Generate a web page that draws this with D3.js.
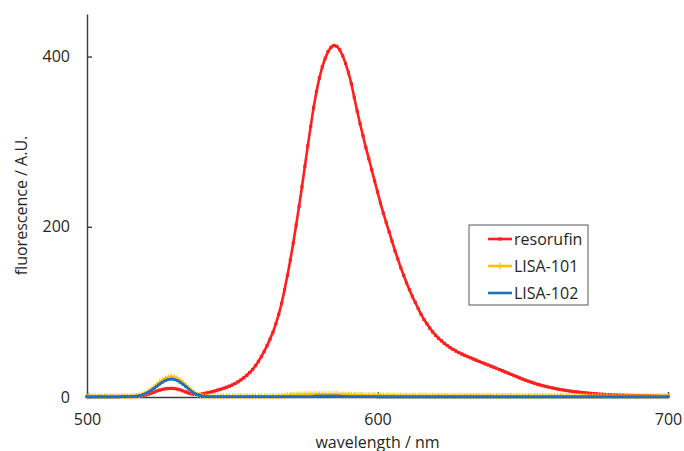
<!DOCTYPE html>
<html>
<head>
<meta charset="utf-8">
<script src="https://cdn.jsdelivr.net/npm/d3@7"></script>
<style>
  html, body { margin: 0; padding: 0; background: #fff; }
  svg { display: block; }
  text { font-family: "Open Sans", "Noto Sans", sans-serif; fill: #262626; }
</style>
</head>
<body>
<svg id="chart" width="684" height="451"></svg>
<script>
// Emission spectra, one reading per nm from 500 to 700 nm
const wavelength = d3.range(500, 701);

const resorufin = [
  0.6,0.6,0.6,0.6,0.6,0.6,0.6,0.6,0.6,0.6,0.6,0.6,0.6,0.6,0.6,0.6,
  0.7,0.9,1.2,1.6,2.2,3.2,4.4,5.7,7.0,8.1,9.0,9.6,10.0,10.1,9.9,9.3,8.4,7.2,5.9,4.6,3.7,3.1,2.9,3.2,3.8,
  4.6,5.4,6.2,7.1,8.1,9.1,10.2,11.4,12.7,14.2,15.9,17.9,20.2,22.7,25.5,28.7,32.4,36.8,41.8,47.5,
  53.7,60.5,68,76,86,97,110,126,143,161,181,202,224,247,271,295,318,340,359,375,
  388,398,406,411,413,412,408,401,392,381,368,352,336,321,307,293,280,267,254,
  241,228,216,205,194,183,172,162,152,143,
  134,126,118,111,104,97,91,86,81,76.5,
  72.5,69,66,63,60.5,58,56,54,52.2,50.5,
  49,47.5,46,44.6,43.2,41.8,40.4,39,37.7,36.3,
  35,33.6,32.2,30.8,29.4,28,26.6,25.2,23.8,22.4,
  21,19.7,18.5,17.3,16.2,15.1,14.1,13.2,12.3,11.5,
  10.8,10.1,9.4,8.8,8.2,7.6,7.1,6.6,6.2,5.8,
  5.4,5,4.7,4.4,4.1,3.8,3.5,3.3,3.1,2.9,
  2.7,2.5,2.4,2.2,2.1,2,1.9,1.8,1.7,1.6,
  1.5,1.4,1.3,1.2,1.1,1,1,0.9,0.9,0.8,
  0.8
];

const lisa101 = [
  0.8,0.8,0.8,0.8,0.8,0.8,0.8,0.8,0.8,0.8,0.8,0.8,0.8,0.8,0.8,0.8,
  0.9,1.3,2.0,3.0,4.4,6.3,8.7,11.4,14.3,17.2,19.8,21.9,23.3,23.8,23.4,22.0,19.8,17.0,13.8,10.6,7.6,5.0,3.0,1.8,1.1,0.8,
  0.8,0.8,0.8,0.8,0.8,0.8,0.8,0.8,0.8,0.8,0.8,0.8,0.8,0.8,0.8,0.8,0.8,0.8,0.8,0.8,0.8,0.8,0.8,0.8,
  1.0,1.2,1.5,1.8,2.1,2.4,2.6,2.8,2.9,3.0,
  3.1,3.1,3.2,3.2,3.2,3.3,3.3,3.2,3.2,3.1,3.1,3.0,2.9,2.8,2.7,2.6,2.5,
  2.4,2.3,2.2,2.1,2.0,2.0,1.9,
  1.9,1.8,1.8,1.7,1.7,1.6,1.6,1.5,1.5,1.5,
  1.4,1.4,1.4,1.4,1.4,1.4,1.4,1.4,1.4,1.4,
  1.3,1.3,1.3,1.3,1.3,1.3,1.3,1.3,1.3,1.3,
  1.3,1.3,1.3,1.3,1.3,1.3,1.3,1.3,1.3,1.3,
  1.2,1.2,1.2,1.2,1.2,1.2,1.2,1.2,1.2,1.2,
  1.2,1.2,1.2,1.2,1.2,1.2,1.2,1.2,1.2,1.2,
  1.1,1.1,1.1,1.1,1.1,1.1,1.1,1.1,1.1,1.1,
  1.1,1.1,1.1,1.1,1.1,1.1,1.1,1.1,1.1,1.1,
  1.0,1.0,1.0,1.0,1.0,1.0,1.0,1.0,1.0,1.0,
  1.0,1.0,1.0,1.0,1.0,1.0,1.0,1.0,1.0,1.0,1.0
];

const lisa102 = [
  0.2,0.2,0.2,0.2,0.2,0.2,0.2,0.2,0.2,0.2,0.2,0.2,
  0.4,0.4,0.4,0.4,
  0.5,0.9,1.5,2.4,3.7,5.4,7.5,9.9,12.5,15.1,17.4,19.3,20.6,21.1,20.7,19.5,17.5,15.0,12.2,9.3,6.7,4.4,2.7,1.5,0.8,0.4,
  0.3,0.3,0.3,0.3,0.3,0.3,0.3,0.3,0.3,0.3,0.3,0.3,0.3,0.3,0.3,0.3,0.3,0.3,
  0.3,0.3,0.3,0.3,0.3,0.3,0.3,0.3,0.3,0.3,0.3,0.3,0.3,0.3,0.3,0.3,0.3,0.3,
  0.8,1.0,1.1,1.1,1.1,1.1,1.1,1.1,1.0,1.0,0.8,
  0.5,0.4,0.3,0.3,0.3,0.3,0.3,0.3,0.3,0.3,0.3,
  0.2,0.2,0.2,0.2,0.2,0.2,0.2,0.2,0.2,0.2,
  0.2,0.2,0.2,0.2,0.2,0.2,0.2,0.2,0.2,0.2,
  0.2,0.2,0.2,0.2,0.2,0.2,0.2,0.2,0.2,0.2,
  0.2,0.2,0.2,0.2,0.2,0.2,0.2,0.2,0.2,0.2,
  0.2,0.2,0.2,0.2,0.2,0.2,0.2,0.2,0.2,0.2,
  0.2,0.2,0.2,0.2,0.2,0.2,0.2,0.2,0.2,0.2,
  0.2,0.2,0.2,0.2,0.2,0.2,0.2,0.2,0.2,0.2,
  0.2,0.2,0.2,0.2,0.2,0.2,0.2,0.2,0.2,0.2,
  0.2,0.2,0.2,0.2,0.2,0.2,0.2,0.2,0.2,0.2,
  0.2,0.2,0.2,0.2,0.2,0.2,0.2,0.2,0.2,0.2,0.2
];

const seriesNames = ["resorufin", "LISA-101", "LISA-102"];
const seriesColors = ["#ff1f1f", "#ffc000", "#2170bd"];
const xTicks = [500, 600, 700];
const yTicks = [0, 200, 400];

const series = [resorufin, lisa101, lisa102].map((vals, i) => ({
  name: seriesNames[i],
  color: seriesColors[i],
  points: wavelength.map((w, j) => ({ x: w, y: vals[j] }))
}));

const svg = d3.select("#chart");
const x = d3.scaleLinear().domain([500, 700]).range([87, 668]);
const y = d3.scaleLinear().domain([0, 450]).range([397, 14]);

// Axes with short inward ticks
const xAxis = svg.append("g")
  .attr("transform", `translate(0,${y(0)})`)
  .call(d3.axisBottom(x).tickValues(xTicks).tickSizeInner(-5).tickSizeOuter(0).tickPadding(17));
const yAxis = svg.append("g")
  .attr("transform", `translate(${x(500)},0)`)
  .call(d3.axisLeft(y).tickValues(yTicks).tickSizeInner(-5).tickSizeOuter(0).tickPadding(17));

[xAxis, yAxis].forEach(g => {
  g.selectAll(".domain").attr("stroke", "#3c3c3c").attr("stroke-width", 1.4);
  g.selectAll(".tick line").attr("stroke", "#3c3c3c").attr("stroke-width", 1.4);
  g.selectAll(".tick text").attr("font-size", 16).attr("fill", "#262626")
    .attr("font-family", "'Open Sans', sans-serif");
});

// Axis titles
svg.append("text")
  .attr("x", x(600)).attr("y", 447.5)
  .attr("text-anchor", "middle").attr("font-size", 16)
  .text("wavelength / nm");
svg.append("text")
  .attr("transform", `translate(27,${y(225)}) rotate(-90)`)
  .attr("text-anchor", "middle").attr("font-size", 16)
  .text("fluorescence / A.U.");

// Series lines with small per-point markers
const line = d3.line().x(d => x(d.x)).y(d => y(d.y));
const plot = svg.append("g");

function drawMarkers(g, s, i) {
  if (i === 0) {
    g.selectAll("rect").data(s.points).join("rect")
      .attr("x", d => x(d.x) - 1.6).attr("y", d => y(d.y) - 1.6)
      .attr("width", 3.2).attr("height", 3.2).attr("fill", s.color);
  } else if (i === 1) {
    g.selectAll("line").data(s.points).join("line")
      .attr("x1", d => x(d.x)).attr("x2", d => x(d.x))
      .attr("y1", d => y(d.y) - 3).attr("y2", d => y(d.y) + 3)
      .attr("stroke", s.color).attr("stroke-width", 1.2);
  } else {
    g.selectAll("line").data(s.points).join("line")
      .attr("x1", d => x(d.x) - 1.5).attr("x2", d => x(d.x) + 1.5)
      .attr("y1", d => y(d.y)).attr("y2", d => y(d.y))
      .attr("stroke", s.color).attr("stroke-width", 2.6);
  }
}

series.forEach((s, i) => {
  const g = plot.append("g");
  g.append("path").datum(s.points)
    .attr("d", line).attr("fill", "none")
    .attr("stroke", s.color).attr("stroke-width", 2.6)
    .attr("stroke-linejoin", "round");
  drawMarkers(g.append("g"), s, i);
});

// Legend
const legend = svg.append("g").attr("transform", "translate(469,225)");
legend.append("rect")
  .attr("width", 119).attr("height", 80)
  .attr("fill", "#fff").attr("stroke", "#595959").attr("stroke-width", 1);
series.forEach((s, i) => {
  const row = legend.append("g").attr("transform", `translate(0,${14 + i * 27})`);
  row.append("line").attr("x1", 19).attr("x2", 43).attr("y1", 0).attr("y2", 0)
    .attr("stroke", s.color).attr("stroke-width", 2.6);
  if (i === 0) {
    row.append("rect").attr("x", 29.4).attr("y", -1.6).attr("width", 3.2).attr("height", 3.2).attr("fill", s.color);
  } else if (i === 1) {
    row.append("line").attr("x1", 31).attr("x2", 31).attr("y1", -3.5).attr("y2", 3.5)
      .attr("stroke", s.color).attr("stroke-width", 1.2);
  }
  row.append("text").attr("x", 45).attr("y", 6)
    .attr("font-size", 16).text(s.name);
});
</script>
</body>
</html>
